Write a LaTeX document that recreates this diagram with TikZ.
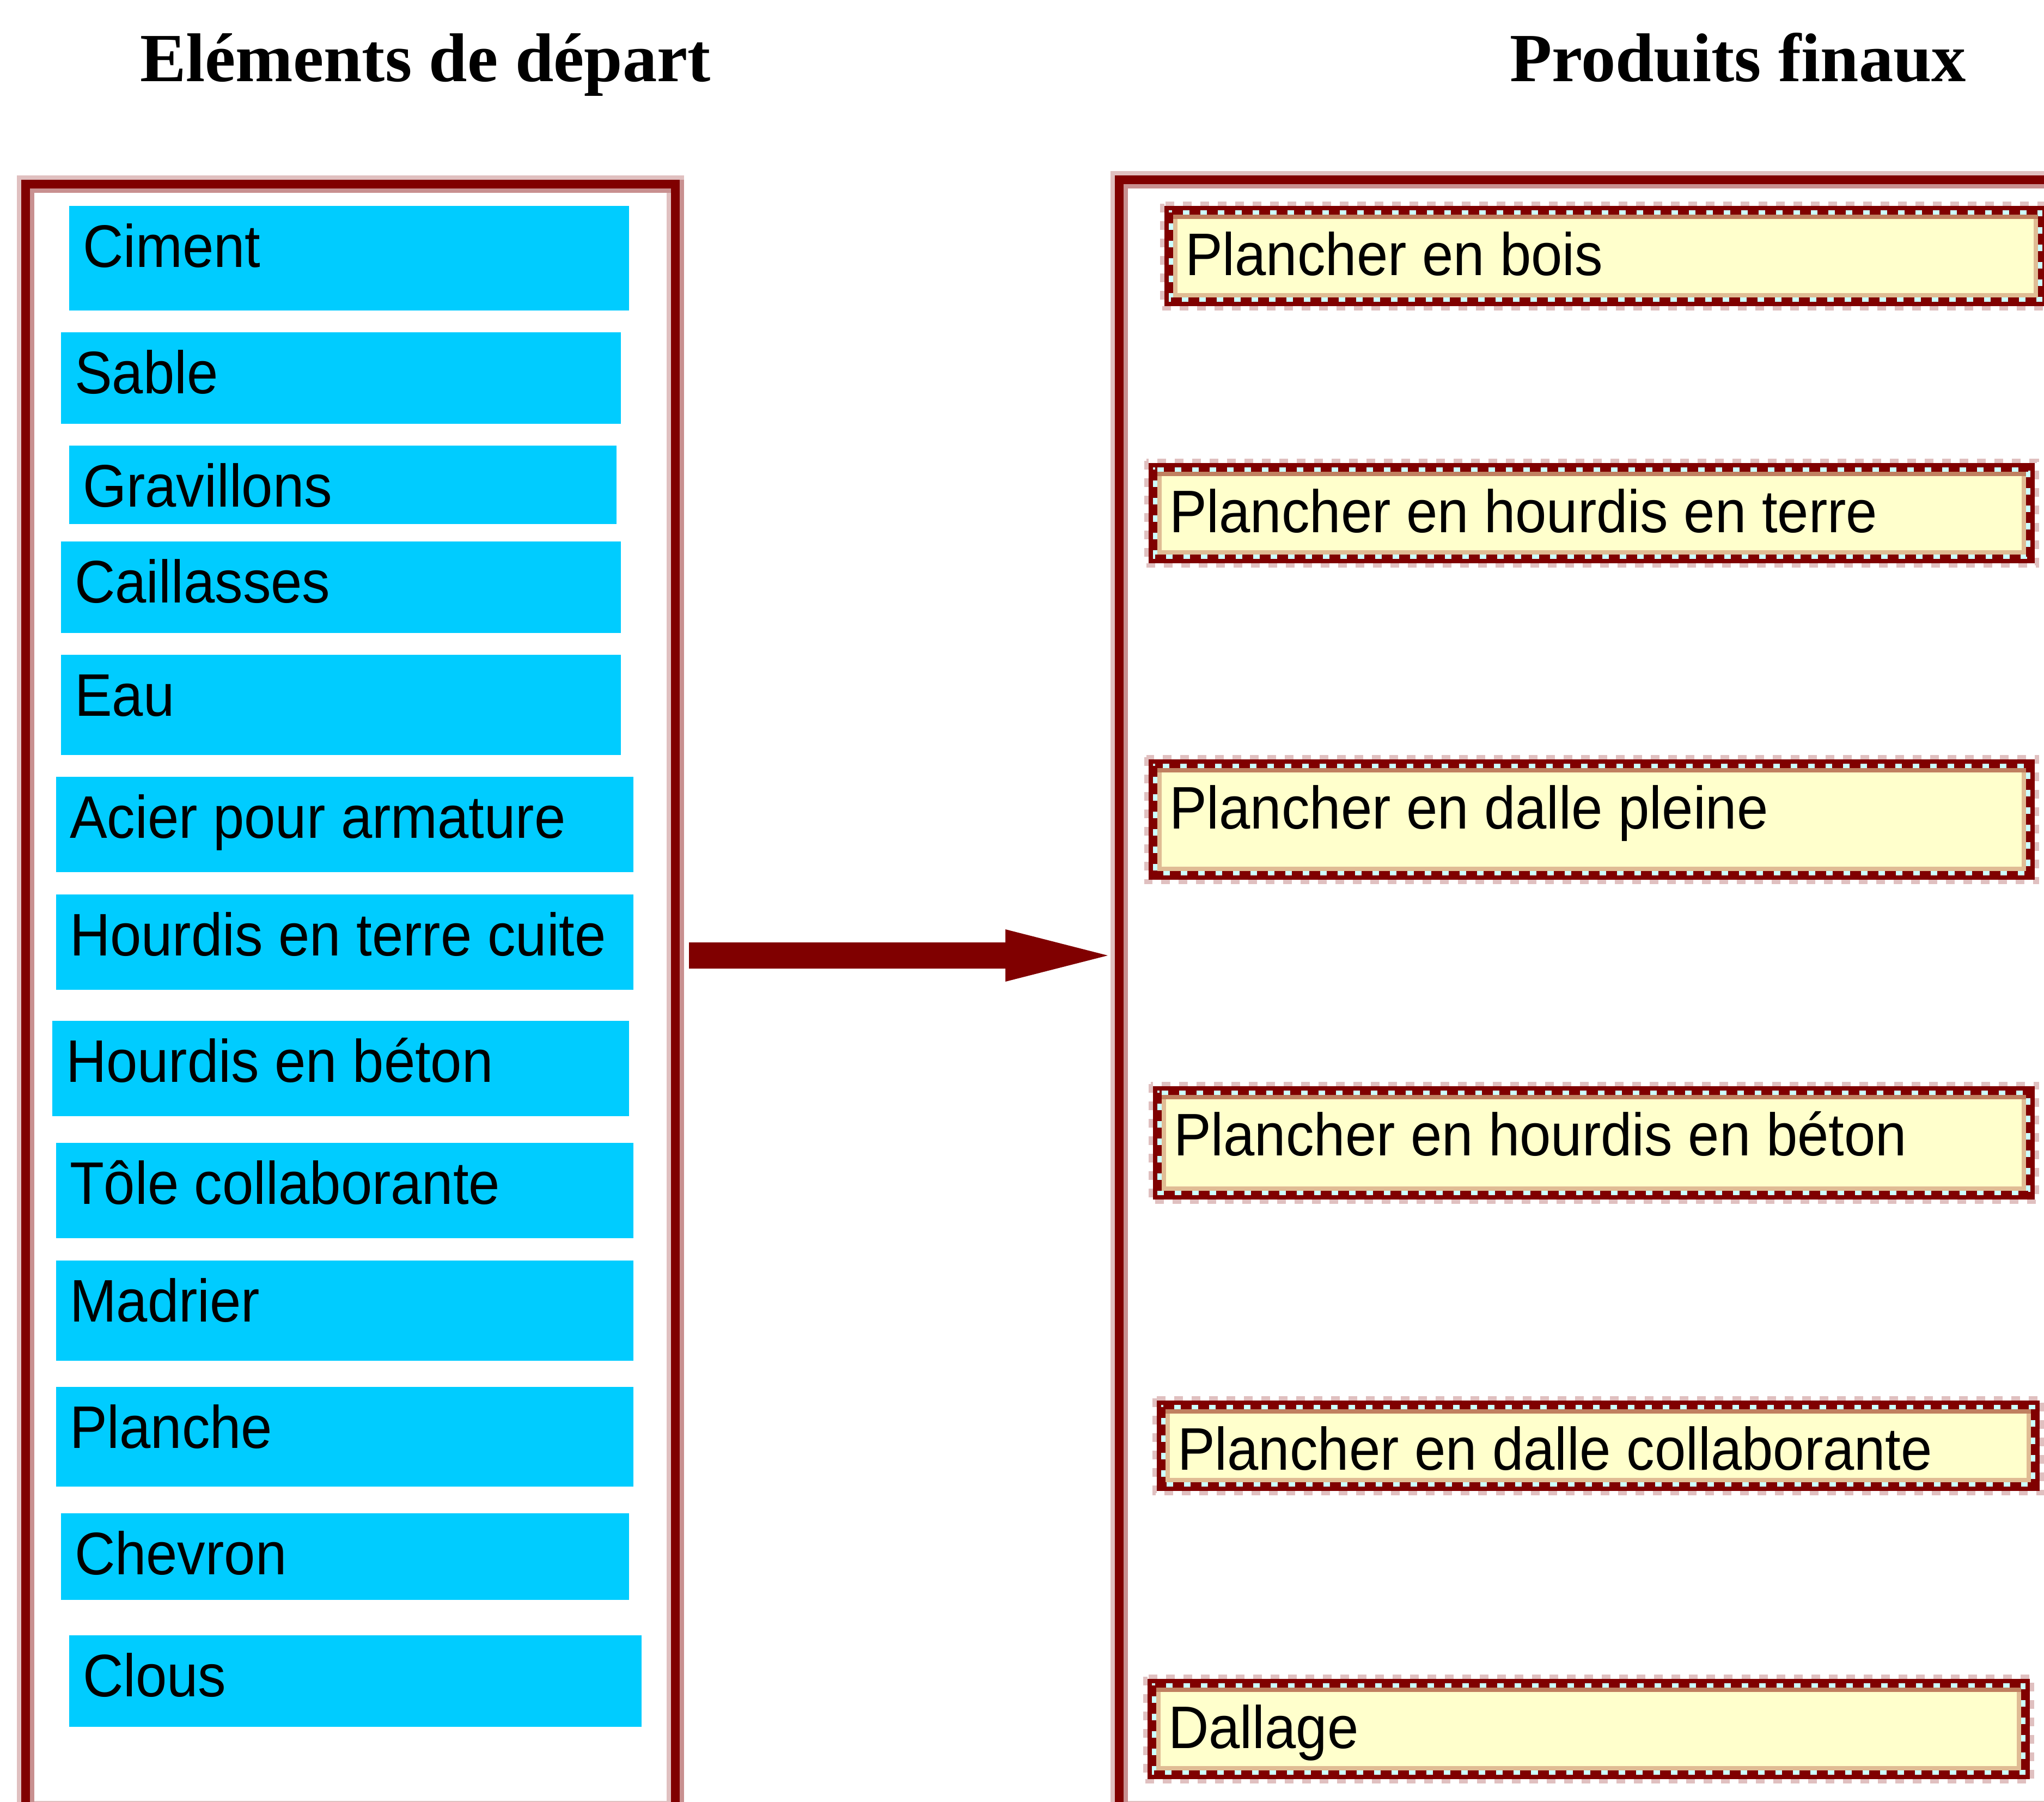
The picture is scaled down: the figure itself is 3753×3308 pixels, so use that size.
\documentclass[tikz,border=0pt]{standalone}
\usepackage{fontspec}
\usepackage{graphicx}
\setmainfont{Liberation Serif}
\newfontfamily\lsans{Liberation Sans}
\usetikzlibrary{calc}
\definecolor{dred}{HTML}{800000}
\definecolor{cyanbox}{HTML}{00CCFF}
\definecolor{yfill}{HTML}{FFFFCC}
\definecolor{lpink}{HTML}{E0C0C0}
\definecolor{mpink}{HTML}{C89090}
\definecolor{lcyan}{HTML}{CCFFFF}
\definecolor{bandtop}{HTML}{C08060}
\definecolor{bandbot}{HTML}{E0BC94}
\tikzset{
  boxtext/.style={inner sep=0pt, outer sep=0pt, anchor=base west, text=black,
    font=\lsans\fontsize{29.3}{35}\selectfont},
  titletext/.style={inner sep=0pt, outer sep=0pt, anchor=base west, text=black,
    font=\bfseries\fontsize{36}{43}\selectfont},
  cnode/.style={inner sep=0pt, outer sep=0pt, anchor=north west, fill=cyanbox, draw=none},
  ynode/.style={inner sep=0pt, outer sep=0pt, anchor=north west, fill=yfill, draw=none},
  framelight/.style={draw=lpink, line width=0.32cm},
  framemid/.style={draw=mpink, line width=0.24cm},
  framedark/.style={draw=dred, line width=0.16cm},
}
\newcommand\cbox[6]{%
  \node[cnode, minimum width={(#4-#2)*0.01cm}, minimum height={(#5-#3)*0.01cm}] (#1) at (#2,#3) {};
  \node[boxtext] (#1-t) at ([shift={(25,112)}]#1.north west) {\scalebox{1}[1.07]{#6}};
}
\newcommand\ybox[6]{%
  \node[ynode, minimum width={(#4-#2)*0.01cm}, minimum height={(#5-#3)*0.01cm}] (#1) at (#2,#3) {};
  \draw[lpink, line width=0.08cm, dash pattern=on 0.16cm off 0.16cm]
    ([shift={(-4,-4)}]#1.north west) rectangle ([shift={(4,4)}]#1.south east);
  \draw[dred, line width=0.08cm]
    ([shift={(4,4)}]#1.north west) rectangle ([shift={(-4,-4)}]#1.south east);
  \draw[lcyan, line width=0.08cm]
    ([shift={(12,12)}]#1.north west) rectangle ([shift={(-12,-12)}]#1.south east);
  \draw[dred, line width=0.08cm, dash pattern=on 0.2cm off 0.12cm]
    ([shift={(12,12)}]#1.north west) rectangle ([shift={(-12,-12)}]#1.south east);
  \draw[bandbot, line width=0.08cm]
    ([shift={(20,20)}]#1.north west) rectangle ([shift={(-20,-20)}]#1.south east);
  \draw[bandtop, line width=0.08cm]
    ([shift={(16,20)}]#1.north west) -- ([shift={(-16,20)}]#1.north east);
  \node[boxtext] (#1-t) at ([shift={(38,127)}]#1.north west) {\scalebox{1}[1.07]{#6}};
}
\begin{document}
\begin{tikzpicture}[x=0.01cm, y=-0.01cm]
\useasboundingbox (0,0) rectangle (3753,3308);
\clip (0,0) rectangle (3753,3308);
\fill[white] (0,0) rectangle (3753,3308);

% titles
\node[titletext] (titleL) at (257,149) {Eléments de départ};
\node[titletext] (titleR) at (2772,149) {Produits finaux};

% left frame
\draw[framelight] (47,338) rectangle (1240,3322);
\draw[framemid, transform canvas={shift={(0.04cm,-0.04cm)}}] (47,338) rectangle (1240,3322);
\draw[framedark] (47,338) rectangle (1240,3322);

% right frame
\draw[framelight] (2055,330) rectangle (3820,3322);
\draw[framemid, transform canvas={shift={(0.04cm,-0.04cm)}}] (2055,330) rectangle (3820,3322);
\draw[framedark] (2055,330) rectangle (3820,3322);

% starting elements
\cbox{ciment}{127}{378}{1155}{570}{Ciment}
\cbox{sable}{112}{610}{1140}{778}{Sable}
\cbox{gravillons}{127}{818}{1132}{962}{Gravillons}
\cbox{caillasses}{112}{994}{1140}{1162}{Caillasses}
\cbox{eau}{112}{1202}{1140}{1386}{Eau}
\cbox{acier}{103}{1426}{1163}{1601}{Acier pour armature}
\cbox{hterre}{103}{1642}{1163}{1817}{Hourdis en terre cuite}
\cbox{hbeton}{96}{1874}{1155}{2049}{Hourdis en béton}
\cbox{tole}{103}{2098}{1163}{2273}{Tôle collaborante}
\cbox{madrier}{103}{2314}{1163}{2498}{Madrier}
\cbox{planche}{103}{2546}{1163}{2729}{Planche}
\cbox{chevron}{112}{2778}{1155}{2937}{Chevron}
\cbox{clous}{127}{3002}{1178}{3170}{Clous}

% final products
\ybox{pbois}{2138}{378}{3758}{562}{Plancher en bois}
\ybox{pterre}{2109}{850}{3736}{1034}{Plancher en hourdis en terre}
\ybox{pdalle}{2109}{1394}{3736}{1615}{Plancher en dalle pleine}
\ybox{pbeton}{2117}{1994}{3736}{2202}{Plancher en hourdis en béton}
\ybox{pcollab}{2124}{2571}{3745}{2737}{Plancher en dalle collaborante}
\ybox{dallage}{2107}{3082}{3727}{3266}{Dallage}

% arrow
\coordinate (arrS) at (1265,1754);
\coordinate (arrE) at (2034,1754);
\fill[dred] ($(arrS)+(0,-24)$) -- ($(arrE)+(-188,-24)$) -- ($(arrE)+(-188,-48)$)
  -- (arrE) -- ($(arrE)+(-188,48)$) -- ($(arrE)+(-188,24)$) -- ($(arrS)+(0,24)$) -- cycle;
\end{tikzpicture}
\end{document}
